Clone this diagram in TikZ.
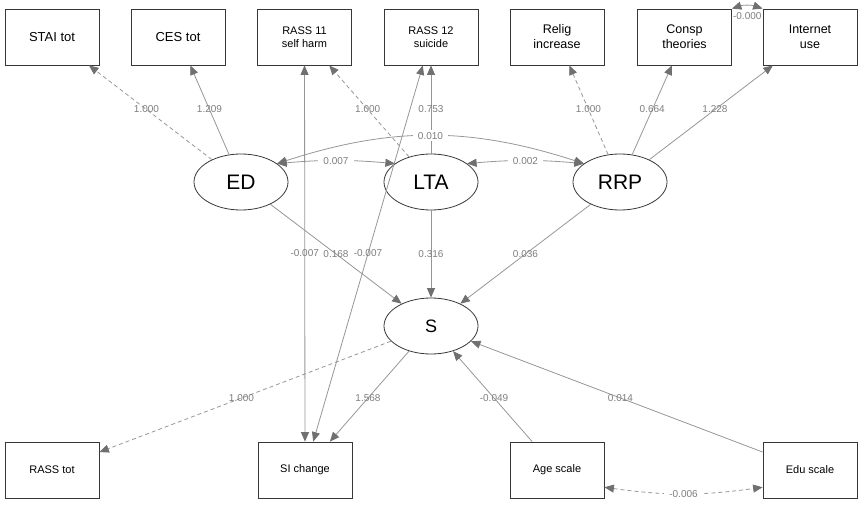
\documentclass[tikz,border=0pt]{standalone}
\usepackage{fontspec}
\setmainfont{Liberation Sans}
\usetikzlibrary{arrows.meta,shapes.geometric}
\definecolor{linecol}{RGB}{150,150,150}
\definecolor{arrcol}{RGB}{112,112,112}
\definecolor{labcol}{RGB}{125,125,125}
\definecolor{bordcol}{RGB}{55,55,55}
\begin{document}
\begin{tikzpicture}[x=1pt,y=1pt,
  >={Triangle[length=9.5pt,width=8pt,color=arrcol]},
  obs/.style={draw=bordcol, line width=0.8pt, minimum width=94pt, minimum height=56pt, inner sep=0pt, align=center},
  big/.style={font=\fontsize{13}{15}\selectfont},
  mid/.style={font=\fontsize{12.5}{15}\selectfont},
  sml/.style={font=\fontsize{11}{12.5}\selectfont},
  lat/.style={ellipse, draw=bordcol, line width=0.8pt, minimum width=94pt, minimum height=56pt, inner sep=0pt, font=\fontsize{21}{25}\selectfont},
  lnk/.style={draw=linecol, line width=0.8pt},
  dsh/.style={lnk, dash pattern=on 4pt off 3pt},
  lab/.style={text=labcol, font=\fontsize{10}{12}\selectfont, inner sep=1pt},
  clab/.style={lab, fill=white, inner xsep=5pt, inner ysep=2pt}
]
\useasboundingbox (0,0) rectangle (861,507);
% observed top
\node[obs,big] (STAI) at (52,470) {STAI tot};
\node[obs,big] (CES) at (178,470) {CES tot};
\node[obs,sml] (R11) at (304.5,470) {RASS 11\\self harm};
\node[obs,sml] (R12) at (431,470) {RASS 12\\suicide};
\node[obs,mid] (Relig) at (557,470) {Relig\\increase};
\node[obs,mid] (Consp) at (684.5,470) {Consp\\theories};
\node[obs,mid] (Inet) at (810,470) {Internet\\use};
% observed bottom
\node[obs,sml] (RASS) at (52,37) {RASS tot};
\node[obs,sml] (SIc) at (305,37) {SI change};
\node[obs,sml] (Age) at (557,37) {Age scale};
\node[obs,sml] (Edu) at (810,37) {Edu scale};
% latent
\node[lat] (ED) at (241,325) {ED};
\node[lat] (LTA) at (431,325) {LTA};
\node[lat] (RRP) at (620,325) {RRP};
\node[lat, font=\fontsize{18}{22}\selectfont] (S) at (431,181) {S};

% loadings
\draw[dsh,->] (ED) -- (STAI);
\path (ED.center) -- (STAI.center) node[lab,midway] (l1) {1.000};
\draw[lnk,->] (ED) -- (CES);
\path (ED.center) -- (CES.center) node[lab,midway] (l2) {1.209};
\draw[dsh,->] (LTA) -- (R11);
\path (LTA.center) -- (R11.center) node[lab,midway] (l3) {1.000};
\draw[lnk,->] (LTA) -- (R12);
\path (LTA.center) -- (R12.center) node[lab,midway] (l4) {0.753};
\draw[dsh,->] (RRP) -- (Relig);
\path (RRP.center) -- (Relig.center) node[lab,midway] (l5) {1.000};
\draw[lnk,->] (RRP) -- (Consp);
\path (RRP.center) -- (Consp.center) node[lab,midway] (l6) {0.664};
\draw[lnk,->] (RRP) -- (Inet);
\path (RRP.center) -- (Inet.center) node[lab,midway] (l7) {1.228};
% regressions on S
\draw[lnk,->] (ED) -- (S);
\path (ED.center) -- (S.center) node[lab,midway] (l8) {0.168};
\draw[lnk,->] (LTA) -- (S);
\path (LTA.center) -- (S.center) node[lab,midway] (l9) {0.316};
\draw[lnk,->] (RRP) -- (S);
\path (RRP.center) -- (S.center) node[lab,midway] (l10) {0.036};
% residual covariances
\draw[lnk,<->] (R11) -- (SIc);
\path (R11.center) -- (SIc.center) node[lab,midway] (l11) {-0.007};
\draw[lnk,<->] (R12) -- (SIc);
\path (R12.center) -- (SIc.center) node[lab,midway] (l12) {-0.007};
% S indicators and covariates
\draw[dsh,->] (S) -- (RASS);
\path (S.center) -- (RASS.center) node[lab,midway] (l13) {1.000};
\draw[lnk,->] (S) -- (SIc);
\path (S.center) -- (SIc.center) node[lab,midway] (l14) {1.568};
\draw[lnk,->] (Age) -- (S);
\path (Age.center) -- (S.center) node[lab,midway] (l15) {-0.049};
\draw[lnk,->] (Edu) -- (S);
\path (Edu.center) -- (S.center) node[lab,midway] (l16) {0.014};
% covariances with white labels
\draw[lnk,<->] (Consp.north east) to[bend left=18] node[lab,midway,yshift=-10pt] (l17) {-0.000} (Inet.north west);
\draw[lnk,<->] (ED.27) to[bend left=5] node[clab,midway] (l18) {0.007} (LTA.153);
\draw[lnk,<->] (LTA.27) to[bend left=5] node[clab,midway] (l19) {0.002} (RRP.153);
\draw[lnk,<->] (ED.27) to[bend left=18] node[clab,midway] (l20) {0.010} (RRP.153);
\draw[dsh,<->] (Age.-20) to[bend right=8] node[clab,midway] (l21) {-0.006} (Edu.200);
\end{tikzpicture}
\end{document}
